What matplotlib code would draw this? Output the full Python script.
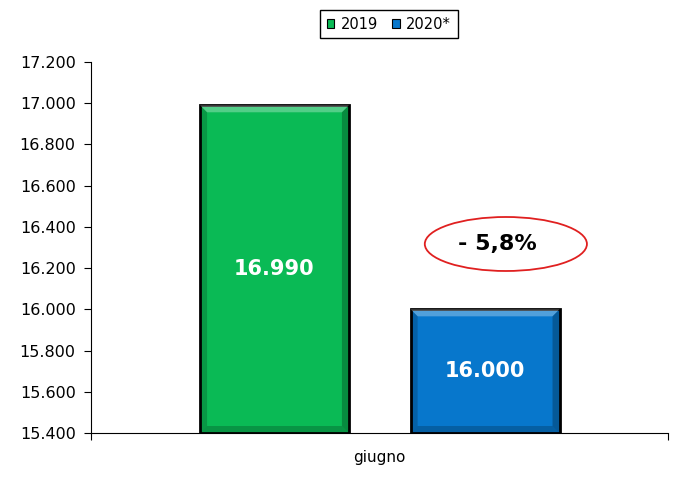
import numpy as np
import matplotlib
matplotlib.use('Agg')
import matplotlib.pyplot as plt
from matplotlib.patches import Ellipse, Polygon
from matplotlib.ticker import FuncFormatter

matplotlib.rcParams.update({'font.family': 'DejaVu Sans', 'font.size': 11})

# data
category = 'giugno'
years = ['2019', '2020*']
values = [16990, 16000]
colors = ['#0ABA55', '#0777CC']
y_ticks = [15400, 15600, 15800, 16000, 16200, 16400, 16600, 16800, 17000, 17200]


def it_num(v, pos=None):
    return '{:,.0f}'.format(v).replace(',', '.')


fig = plt.figure(figsize=(6.76, 4.86), dpi=100)
ax = fig.add_axes([91 / 676, 53 / 486, 577 / 676, 371 / 486])

offsets = [-0.182, 0.183]
width = 0.258
bars = []
for off, v, c, lab in zip(offsets, values, colors, years):
    b = ax.bar(off, v - y_ticks[0], bottom=y_ticks[0], width=width, color=c,
               edgecolor='black', linewidth=2, label=lab, zorder=2)
    bars.append(b)

# bevel look: light top strip, darker sides (approximate, in pixel-ish units)
dx = 7 / 577
dy = 7 / 371 * (y_ticks[-1] - y_ticks[0])
for b, c in zip(bars, colors):
    r = b.patches[0]
    x0, w = r.get_x(), r.get_width()
    y0, h = r.get_y(), r.get_height()
    x1, y1 = x0 + w, y0 + h
    top = Polygon([[x0, y1], [x1, y1], [x1 - dx, y1 - dy], [x0 + dx, y1 - dy]],
                  closed=True, facecolor='white', alpha=0.3, lw=0, zorder=3)
    left = Polygon([[x0, y0], [x0, y1], [x0 + dx, y1 - dy], [x0 + dx, y0 + dy]],
                   closed=True, facecolor='black', alpha=0.18, lw=0, zorder=3)
    right = Polygon([[x1, y0], [x1, y1], [x1 - dx, y1 - dy], [x1 - dx, y0 + dy]],
                    closed=True, facecolor='black', alpha=0.25, lw=0, zorder=3)
    bottom = Polygon([[x0, y0], [x1, y0], [x1 - dx, y0 + dy], [x0 + dx, y0 + dy]],
                     closed=True, facecolor='black', alpha=0.2, lw=0, zorder=3)
    for p in (top, left, right, bottom):
        ax.add_patch(p)
    ax.text(x0 + w / 2, y0 + h / 2, it_num(y1), ha='center', va='center',
            color='white', fontsize=15, fontweight='bold', zorder=4)

ax.set_xlim(-0.5, 0.5)
ax.set_ylim(y_ticks[0], y_ticks[-1])
ax.set_yticks(y_ticks)
ax.yaxis.set_major_formatter(FuncFormatter(it_num))
ax.set_xticks([-0.5, 0.5])
ax.set_xticklabels(['', ''])
ax.set_xticks([0], minor=True)
ax.set_xticklabels([category], minor=True)
ax.tick_params(axis='x', which='minor', length=0, pad=12, labelsize=11)
ax.tick_params(axis='x', which='major', length=5, direction='out')
ax.tick_params(axis='y', length=5, direction='out', labelsize=11.5, pad=6)
for s in ['top', 'right']:
    ax.spines[s].set_visible(False)

# percentage change callout
pct = (values[1] - values[0]) / values[0] * 100
ell = Ellipse((0.219, 16317), 0.281, 262, facecolor='white', edgecolor='#E02020',
              linewidth=1.3, zorder=3)
ax.add_patch(ell)
ax.text(0.204, 16317, '- {:.1f}%'.format(abs(pct)).replace('.', ','),
        ha='center', va='center', fontsize=16, fontweight='bold', zorder=4)

leg = fig.legend(loc='upper center', bbox_to_anchor=(389 / 676, 1 - 10 / 486),
                 ncol=2, fancybox=False, edgecolor='black', framealpha=1,
                 fontsize=10.5, handlelength=0.5, handleheight=0.6,
                 handletextpad=0.45, columnspacing=1.0, borderpad=0.45,
                 borderaxespad=0)
leg.get_frame().set_linewidth(1)
for h in leg.legend_handles:
    h.set_linewidth(0.8)

fig.savefig('out.png', dpi=100)
